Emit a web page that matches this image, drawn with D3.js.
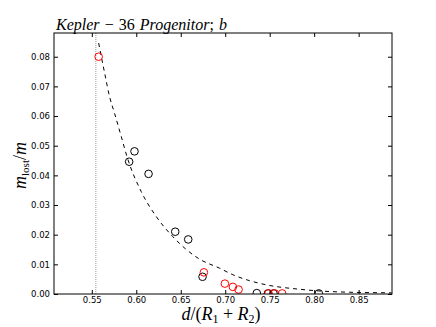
<html>
<head>
<meta charset="UTF-8"/>
<script src="https://d3js.org/d3.v7.min.js"></script>
<style>
body { margin: 0; background: #fff; }
svg { display: block; }
.tick text { font-family: 'DejaVu Sans', sans-serif; font-size: 8.5px; fill: #000; }
.tick line { stroke: #000; }
.math { font-family: 'Liberation Serif', serif; fill: #000; }
</style>
</head>
<body>
<svg width="436" height="327"></svg>
<script>
// data
const xTicks = [0.55, 0.60, 0.65, 0.70, 0.75, 0.80, 0.85];
const yTicks = [0.00, 0.01, 0.02, 0.03, 0.04, 0.05, 0.06, 0.07, 0.08];
const dLimit = 0.5545;

const blackX = [0.592, 0.598, 0.6138, 0.6438, 0.6584, 0.6745, 0.7355, 0.748, 0.7543, 0.8052];
const blackY = [0.0446, 0.0481, 0.0405, 0.0210, 0.0184, 0.0058, 0.0003, 0.0002, 0.0002, 0.0002];
const redX = [0.5577, 0.676, 0.6996, 0.7086, 0.715, 0.7487, 0.7557, 0.764];
const redY = [0.0800, 0.0073, 0.0035, 0.0024, 0.0015, 0.0002, 0.0002, 0.0002];

const fitX = [0.5577, 0.5645, 0.570, 0.5756, 0.5831, 0.590, 0.6056, 0.6225, 0.6412, 0.6709, 0.6937, 0.7086, 0.7273, 0.746, 0.7835, 0.8022, 0.8397, 0.887];
const fitY = [0.0846, 0.0744, 0.0665, 0.0609, 0.0531, 0.0459, 0.0345, 0.0261, 0.0193, 0.0118, 0.0087, 0.0065, 0.0045, 0.0031, 0.0016, 0.0011, 0.0006, 0.0004];

const svg = d3.select('svg');
const mLeft = 54, mTop = 33, mRight = 392, mBottom = 294;
const width = mRight - mLeft, height = mBottom - mTop;

const x = d3.scaleLinear().domain([0.5075, 0.8875]).range([0, width]);
const y = d3.scaleLinear().domain([0, 0.088]).range([height, 0]);

const chart = svg.append('g').attr('transform', `translate(${mLeft}, ${mTop})`);

chart.append('clipPath').attr('id', 'clip')
  .append('rect').attr('width', width).attr('height', height);

// axes with inward ticks on all four sides
chart.append('g')
  .attr('transform', `translate(0, ${height})`)
  .call(d3.axisBottom(x).tickValues(xTicks).tickSizeInner(-4).tickSizeOuter(0).tickPadding(3).tickFormat(d3.format('.2f')))
  .call(g => g.select('.domain').remove());
chart.append('g')
  .call(d3.axisTop(x).tickValues(xTicks).tickSizeInner(-4).tickSizeOuter(0).tickFormat(''))
  .call(g => g.select('.domain').remove());
chart.append('g')
  .call(d3.axisLeft(y).tickValues(yTicks).tickSizeInner(-4).tickSizeOuter(0).tickPadding(4).tickFormat(d3.format('.2f')))
  .call(g => g.select('.domain').remove());
chart.append('g')
  .attr('transform', `translate(${width}, 0)`)
  .call(d3.axisRight(y).tickValues(yTicks).tickSizeInner(-4).tickSizeOuter(0).tickFormat(''))
  .call(g => g.select('.domain').remove());

const plot = chart.append('g').attr('clip-path', 'url(#clip)');

// dotted limit line
plot.append('line')
  .attr('x1', x(dLimit)).attr('x2', x(dLimit))
  .attr('y1', 0).attr('y2', height)
  .attr('stroke', '#aaa').attr('stroke-width', 1.2)
  .attr('stroke-dasharray', '1,1');

// dashed fit curve
const fit = fitX.map((d, i) => [d, fitY[i]]);
plot.append('path')
  .datum(fit)
  .attr('fill', 'none')
  .attr('stroke', '#000')
  .attr('stroke-width', 1)
  .attr('stroke-dasharray', '4,4')
  .attr('d', d3.line().x(d => x(d[0])).y(d => y(d[1])).curve(d3.curveMonotoneX));

const black = blackX.map((d, i) => [d, blackY[i]]);
const red = redX.map((d, i) => [d, redY[i]]);

plot.selectAll('circle.black').data(black).enter()
  .append('circle').attr('class', 'black')
  .attr('cx', d => x(d[0])).attr('cy', d => y(d[1])).attr('r', 3.8)
  .attr('fill', 'none').attr('stroke', '#000').attr('stroke-width', 1);

plot.selectAll('circle.red').data(red).enter()
  .append('circle').attr('class', 'red')
  .attr('cx', d => x(d[0])).attr('cy', d => y(d[1])).attr('r', 3.8)
  .attr('fill', 'none').attr('stroke', '#f00').attr('stroke-width', 1);

// frame
chart.append('rect')
  .attr('width', width).attr('height', height)
  .attr('fill', 'none').attr('stroke', '#000').attr('stroke-width', 1);

// title
const title = svg.append('text').attr('class', 'math')
  .attr('x', mLeft + 2).attr('y', 30).attr('font-size', 16);
title.append('tspan').attr('font-style', 'italic').text('Kepler');
title.append('tspan').text(' \u2212 36 ');
title.append('tspan').attr('font-style', 'italic').text('Progenitor');
title.append('tspan').text('; ');
title.append('tspan').attr('font-style', 'italic').text('b');
// stretch the spaces so the title spans like the reference (mathtext spacing)
const tLen = title.node().getComputedTextLength();
title.attr('word-spacing', Math.max(0, (171 - tLen) / 4));

// x label
const xl = svg.append('text').attr('class', 'math')
  .attr('x', mLeft + width / 2 - 2).attr('y', 320)
  .attr('text-anchor', 'middle').attr('font-size', 18);
xl.append('tspan').attr('font-style', 'italic').text('d');
xl.append('tspan').text('/(');
xl.append('tspan').attr('font-style', 'italic').text('R');
xl.append('tspan').attr('font-size', 12).attr('dy', 3).text('1');
xl.append('tspan').attr('dy', -3).text(' + ');
xl.append('tspan').attr('font-style', 'italic').text('R');
xl.append('tspan').attr('font-size', 12).attr('dy', 3).text('2');
xl.append('tspan').attr('dy', -3).text(')');

// y label
const yl = svg.append('text').attr('class', 'math')
  .attr('transform', `translate(26, ${mTop + height / 2 + 2}) rotate(-90)`)
  .attr('text-anchor', 'middle').attr('font-size', 18);
yl.append('tspan').attr('font-style', 'italic').text('m');
yl.append('tspan').attr('font-size', 11).attr('dy', 3).text('lost');
yl.append('tspan').attr('dy', -3).text('/');
yl.append('tspan').attr('font-style', 'italic').text('m');
</script>
</body>
</html>
